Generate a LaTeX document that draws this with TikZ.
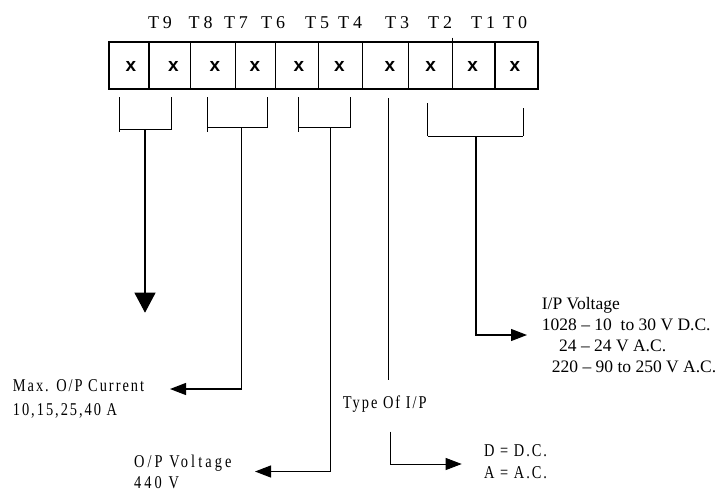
\documentclass[tikz,border=0pt]{standalone}
\usepackage{fontspec}
\setmainfont{Liberation Serif}
\newfontfamily\cellfont{Liberation Sans}
\newfontfamily\condfont[FakeStretch=0.8,LetterSpace=11]{Liberation Serif}
\newfontfamily\widefont[FakeStretch=0.8,LetterSpace=17]{Liberation Serif}
\usetikzlibrary{arrows.meta}
\begin{document}
\begin{tikzpicture}[x=1pt,y=-1pt,
  txt/.style={inner sep=0pt,anchor=base west},
  tlab/.style={inner sep=0pt,anchor=base,font=\fontsize{18}{18}\selectfont},
  cellx/.style={inner sep=0pt,font=\cellfont\bfseries\fontsize{19}{19}\selectfont},
  cond/.style={txt,font=\condfont\fontsize{18}{18}\selectfont},
  wide/.style={txt,font=\widefont\fontsize{18}{18}\selectfont},
  ipv/.style={txt,font=\fontsize{17.5}{17.5}\selectfont},
  brk/.style={line width=0.9pt},
  stem/.style={line width=1.2pt},
  arr/.style={stem,-{Triangle[length=16pt,width=12pt]}},
  bigarr/.style={stem,-{Triangle[length=20pt,width=21pt]}}]
\useasboundingbox (0,0) rectangle (720,491);
% bit labels
\foreach \n/\x in {9/160,8/200.7,7/236,6/273,5/317,4/350,3/397,2/440,1/483,0/515}
  \node[tlab] (t\n) at (\x,28.3) {T\hspace{4pt}\n};
% box
\draw[line width=1.8pt] (109.3,42.3) rectangle (537.7,89.3);
\foreach \x in {149,190.7,235.7,275.7,318.3,362.3,408.3,495}
  \draw[line width=1.3pt] (\x,42.3) -- (\x,89.3);
\draw[line width=1.3pt] (452.7,37.7) -- (452.7,89.3);
\foreach \i/\x in {9/131,8/173.3,7/215,6/255,5/299,4/339.3,3/390,2/430.7,1/472.7,0/515}
  \node[cellx] (x\i) at (\x,66.5) {x};
% coordinates
\coordinate (a1) at (119,97);   \coordinate (a2) at (119,132);
\coordinate (a3) at (171.7,97); \coordinate (a4) at (171.7,129.3);
\coordinate (aL) at (119,129.3);
\coordinate (as) at (145,129.3); \coordinate (ae) at (145,312.7);
\coordinate (b1) at (207.7,97); \coordinate (b2) at (207.7,132);
\coordinate (b3) at (267.3,97); \coordinate (b4) at (267.3,127.7);
\coordinate (bL) at (207.7,127.7);
\coordinate (bs) at (241.7,127.7); \coordinate (bc) at (241.7,389); \coordinate (be) at (170,389);
\coordinate (c1) at (298,97);   \coordinate (c2) at (298,132);
\coordinate (c3) at (350,97);   \coordinate (c4) at (350,127.7);
\coordinate (cL) at (298,127.7);
\coordinate (cs) at (330.7,127.7); \coordinate (cc) at (330.7,471.5); \coordinate (ce) at (255,471.5);
\coordinate (d1) at (388.5,98); \coordinate (d2) at (388.5,380);
\coordinate (e1) at (427.7,103); \coordinate (e2) at (427.7,136);
\coordinate (e3) at (523.3,108); \coordinate (e4) at (523.3,136);
\coordinate (es) at (476,136); \coordinate (ec) at (476,335); \coordinate (ee) at (527,335);
\coordinate (f1) at (390,431.7); \coordinate (fc) at (390,464); \coordinate (fe) at (461.7,464);
% brackets
\draw[brk] (a1) -- (a2); \draw[brk] (a3) -- (a4); \draw[brk] (aL) -- (a4);
\draw[brk] (b1) -- (b2); \draw[brk] (b3) -- (b4); \draw[brk] (bL) -- (b4);
\draw[brk] (c1) -- (c2); \draw[brk] (c3) -- (c4); \draw[brk] (cL) -- (c4);
\draw[brk] (e1) -- (e2); \draw[brk] (e3) -- (e4); \draw[brk] (e2) -- (e4);
% stems and arrows
\draw[bigarr] (as) -- (ae);
\draw[arr] (bs) -- (bc) -- (be);
\draw[arr] (cs) -- (cc) -- (ce);
\draw[stem] (d1) -- (d2);
\draw[arr] (es) -- (ec) -- (ee);
\draw[arr,line width=0.9pt] (f1) -- (fc) -- (fe);
% texts
\node[cond] (cur1) at (12.7,391.7) {Max. O/P Current};
\node[cond] (cur2) at (12.7,415) {10,15,25,40 A};
\node[wide] (opv1) at (134,467.5) {O/P Voltage};
\node[wide] (opv2) at (134,488) {440 V};
\node[cond] (typ) at (342.7,408) {Type Of I/P};
\node[cond] (dc) at (484,456) {D = D.C.};
\node[cond] (ac) at (484,478) {A = A.C.};
\node[ipv] (ip1) at (541.7,309) {I/P Voltage};
\node[ipv] (ip2) at (541.7,330) {1028 – 10\ \ to 30 V D.C.};
\node[ipv] (ip3) at (559,351.7) {24 – 24 V A.C.};
\node[ipv] (ip4) at (551.7,372.7) {220 – 90 to 250 V A.C.};
\end{tikzpicture}
\end{document}
